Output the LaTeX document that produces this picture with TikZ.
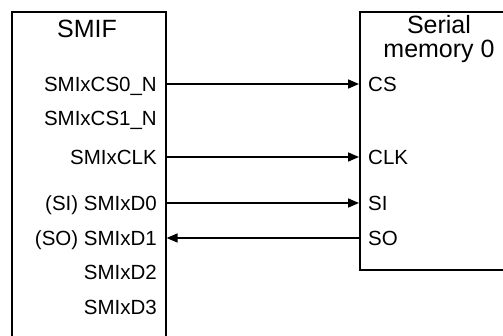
\documentclass[tikz,border=0pt]{standalone}
\usepackage{fontspec}
\setmainfont{Liberation Sans}
\usetikzlibrary{arrows.meta}
\begin{document}
\begin{tikzpicture}[x=1pt,y=-1pt,
  box/.style={draw=black, line width=1.6pt, inner sep=0pt, anchor=north west},
  title/.style={font=\fontsize{25}{24}\selectfont, inner sep=0pt, align=center},
  lbl/.style={font=\fontsize{20.5}{24}\selectfont, inner sep=0pt},
  sig/.style={line width=1.6pt, -{Triangle[length=11pt,width=9pt]}}
]
\useasboundingbox (0,0) rectangle (503,336);
\node[box, minimum width=154pt, minimum height=340pt] (smif) at (11,11) {};
\node[box, minimum width=160pt, minimum height=258pt] (mem) at (359,11) {};
\node[title, anchor=base] (smift) at (87,38) {SMIF};
\node[title, anchor=north] (memt) at (439,15) {Serial\\memory 0};
% SMIF pin labels
\node[lbl, anchor=base east] (cs0) at (157,91.3) {SMIxCS0\_N};
\node[lbl, anchor=base east] (cs1) at (157,125.3) {SMIxCS1\_N};
\node[lbl, anchor=base east] (clk) at (157,164.3) {SMIxCLK};
\node[lbl, anchor=base east] (d0) at (157,210.3) {(SI) SMIxD0};
\node[lbl, anchor=base east] (d1) at (157,245.3) {(SO) SMIxD1};
\node[lbl, anchor=base east] (d2) at (157,279.3) {SMIxD2};
\node[lbl, anchor=base east] (d3) at (157,314.3) {SMIxD3};
% memory pin labels
\node[lbl, anchor=base west] (mcs) at (368,91.3) {CS};
\node[lbl, anchor=base west] (mclk) at (368,164.3) {CLK};
\node[lbl, anchor=base west] (msi) at (368,210.3) {SI};
\node[lbl, anchor=base west] (mso) at (368,245.3) {SO};
% row coordinates
\coordinate (r1) at (0,84);
\coordinate (r2) at (0,157);
\coordinate (r3) at (0,203);
\coordinate (r4) at (0,238);
\draw[sig] (smif.east |- r1) -- (mem.west |- r1);
\draw[sig] (smif.east |- r2) -- (mem.west |- r2);
\draw[sig] (smif.east |- r3) -- (mem.west |- r3);
\draw[sig] (mem.west |- r4) -- (smif.east |- r4);
\end{tikzpicture}
\end{document}
